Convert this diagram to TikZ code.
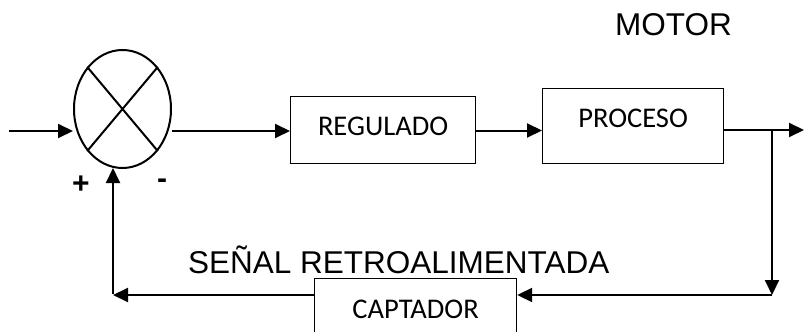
\documentclass[tikz,border=0pt]{standalone}
\usepackage{fontspec}
\usetikzlibrary{arrows.meta,shapes.geometric}
\newfontfamily\carlitof{Carlito}
\newfontfamily\arialf{Liberation Sans}
\begin{document}
\begin{tikzpicture}[x=1pt,y=-1pt,
  arr/.style={line width=2pt,-{Triangle[length=15pt,width=14pt]}},
  ln/.style={line width=2pt},
  blk/.style={draw,line width=1.2pt,rectangle,inner xsep=0pt,inner ysep=0pt,anchor=north west,font=\carlitof\fontsize{28.5}{30}\selectfont},
  lbl/.style={inner sep=0pt,font=\arialf\fontsize{31.5}{33}\selectfont}]
\useasboundingbox (0,0) rectangle (804,332);
% summing junction
\node[draw,ellipse,line width=2pt,minimum width=97pt,minimum height=118pt,inner sep=0pt] (S) at (122.5,109) {};
\draw[line width=2pt] (S.50) -- (S.230) (S.130) -- (S.310);
% blocks
\node[blk,minimum width=185pt,text height=39.25pt,text depth=27.75pt] (R) at (290,96) {REGULADO};
\node[blk,minimum width=181pt,text height=39.25pt,text depth=35.75pt] (P) at (542,88) {PROCESO};
\node[blk,minimum width=202pt,text height=40.25pt,text depth=30pt] (C) at (314,278) {CAPTADOR};
% coordinates
\coordinate (in) at (9,131);
\coordinate (sl) at (0,131);
\coordinate (out) at (804,130);
\coordinate (br) at (772,130);
\coordinate (bd) at (772,295);
\coordinate (fb) at (113,295);
% connectors
\draw[arr] (in) -- (S.west |- in);
\draw[arr] (S.east |- in) -- (R.west |- in);
\draw[arr] (R.east |- 0,130.5) -- (P.west |- 0,130.5);
\draw[arr] (P.east |- out) -- (out);
\draw[arr] (br) -- (bd);
\draw[arr] (bd) -- (C.east |- bd);
\draw[arr] (C.west |- bd) -- (fb);
\draw[arr] ([yshift=1pt]fb) -- (fb |- 0,168);
% labels
\node[lbl,anchor=base west] (motor) at (615,35) {MOTOR};
\node[lbl,anchor=base west] (senal) at (188,273) {SEÑAL RETROALIMENTADA};
\node[inner sep=0pt,font=\arialf\bfseries\fontsize{30}{30}\selectfont] (plus) at (81,185) {+};
\node[inner sep=0pt,font=\arialf\bfseries\fontsize{30}{30}\selectfont] (minus) at (162,184) {-};
\end{tikzpicture}
\end{document}
